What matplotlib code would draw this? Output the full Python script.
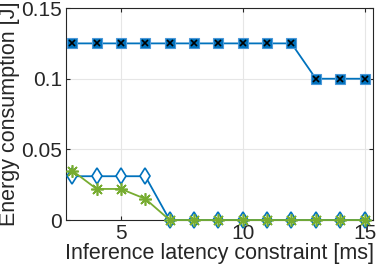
import numpy as np
import matplotlib
matplotlib.use("Agg")
import matplotlib.pyplot as plt

plt.rcParams['font.family'] = ['Liberation Sans', 'DejaVu Sans']

latency = np.arange(3, 16)
energy_a = [0.125] * 10 + [0.1] * 3
energy_b = [0.031] * 4 + [0.0] * 9
energy_c = [0.035, 0.022, 0.022, 0.015] + [0.0] * 9

blue = (0, 0.447, 0.741)
green = (0.466, 0.674, 0.188)

fig = plt.figure(figsize=(3.78, 2.69), dpi=100)
ax = fig.add_axes([0.175, 0.182, 0.812, 0.788])

ax.plot(latency, energy_a, color=blue, lw=1.3, marker='s', ms=7,
        mfc=blue, mec=(0.3, 0.6, 0.85), mew=0.8, zorder=3, clip_on=False)
ax.plot(latency, energy_a, ls='none', marker='x', ms=5, mec='black', mew=1.2,
        zorder=4, clip_on=False)
ax.plot(latency, energy_b, color=blue, lw=1.3, marker='d', ms=8,
        mfc='white', mec=blue, mew=1.2, zorder=3, clip_on=False)
ax.plot(latency, energy_c, color=green, lw=1.3, marker=(8, 2, 0), ms=9,
        mec=green, mew=1.2, zorder=4, clip_on=False)

ax.set_xlim(2.75, 15.35)
ax.set_ylim(0, 0.15)
ax.set_xticks([5, 10, 15])
ax.set_yticks([0, 0.05, 0.1, 0.15])
ax.set_yticklabels(['0', '0.05', '0.1', '0.15'])
ax.grid(True, color='#e6e6e6', lw=0.8)
ax.set_axisbelow(True)
ax.tick_params(direction='in', top=True, right=True, labelsize=15,
               length=3, color='#262626', labelcolor='#262626', pad=3)
for s in ax.spines.values():
    s.set_color('#262626')
    s.set_linewidth(0.8)
ax.set_xlabel('Inference latency constraint [ms]', fontsize=15.5, color='#262626', labelpad=0)
ax.set_ylabel('Energy consumption [J]', fontsize=15.5, color='#262626', labelpad=1)

fig.savefig('out.png', dpi=100)
